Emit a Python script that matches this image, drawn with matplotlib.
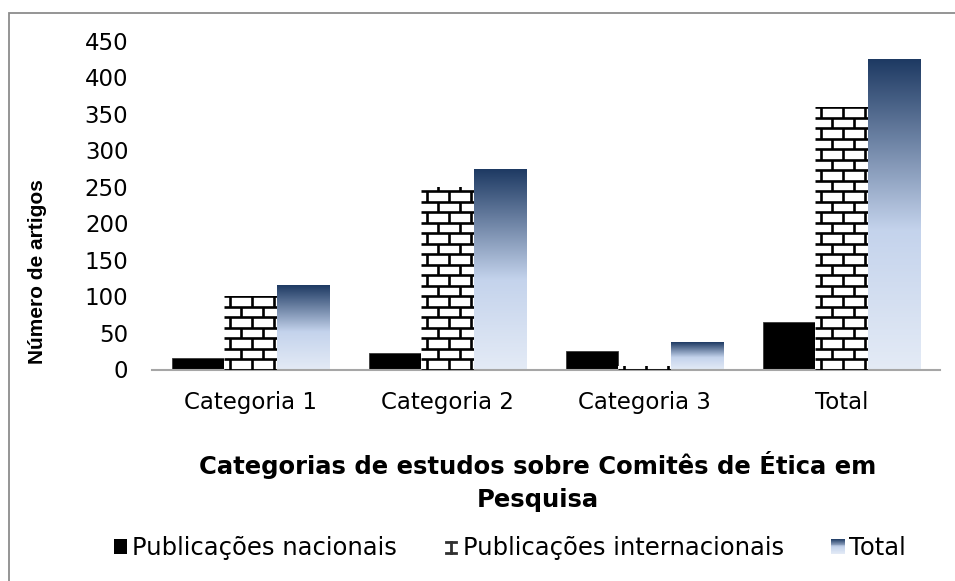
import numpy as np
import matplotlib
matplotlib.use("Agg")
import matplotlib.pyplot as plt
from matplotlib.patches import Rectangle
from matplotlib.lines import Line2D
from matplotlib.collections import LineCollection
from matplotlib.colors import LinearSegmentedColormap
from matplotlib.legend_handler import HandlerBase

# ---------------- data ----------------
categories = ["Categoria 1", "Categoria 2", "Categoria 3", "Total"]
nacionais = [16, 23, 26, 65]
internacionais = [100, 250, 5, 360]
total = [116, 274, 37, 425]
series_names = ["Publicações nacionais", "Publicações internacionais", "Total"]
yticks = [0, 50, 100, 150, 200, 250, 300, 350, 400, 450]
ylabel = "Número de artigos"
xlabel = "Categorias de estudos sobre Comitês de Ética em\nPesquisa"

# ---------------- style ----------------
plt.rcParams['font.family'] = ['DejaVu Sans']
FS = 16.5
W, H = 955, 581
fig = plt.figure(figsize=(W / 100, H / 100), dpi=100)

ax_l, ax_r, ax_b, ax_t = 152, 940, 369.5, 40.8   # pixel box of plot area
ax = fig.add_axes([ax_l / W, 1 - ax_b / H, (ax_r - ax_l) / W, (ax_b - ax_t) / H])

xlim = (-0.5, len(categories) - 0.5)
ylim = (0, 450)
px_x = (xlim[1] - xlim[0]) / (ax_r - ax_l)   # data units per pixel
px_y = (ylim[1] - ylim[0]) / (ax_b - ax_t)

x = np.arange(len(categories))
bw = 0.267

b1 = ax.bar(x - bw, nacionais, bw, color='black', edgecolor='#3a3a3a', lw=0.6, zorder=2)
b2 = ax.bar(x, internacionais, bw, color='white', lw=0, zorder=2)
b3 = ax.bar(x + bw, total, bw, color='none', lw=0, zorder=2)

# gradient for Total bars
grad_cmap = LinearSegmentedColormap.from_list(
    "g", [(0.0, "#E4EBF6"), (0.45, "#C4D3EC"), (1.0, "#1E3A63")])
grad = np.linspace(0, 1, 256).reshape(-1, 1)
for bar in b3:
    x0, w, h = bar.get_x(), bar.get_width(), bar.get_height()
    ax.imshow(grad, extent=[x0, x0 + w, 0, h], origin='lower',
              aspect='auto', cmap=grad_cmap, zorder=2, interpolation='bilinear')

# brick pattern for international bars
row_h = 10.5 * px_y
brick_w = 22 * px_x
for bar in b2:
    x0, w, h = bar.get_x(), bar.get_width(), bar.get_height()
    nrows = int(np.ceil(h / row_h)) + 1
    segs = []
    for k in range(nrows + 1):
        y = k * row_h
        segs.append([(x0, y), (x0 + w, y)])
    for k in range(nrows):
        off = 0.25 * brick_w + (k % 2) * brick_w / 2
        for j in range(-1, int(w / brick_w) + 2):
            xv = x0 + off + j * brick_w
            segs.append([(xv, k * row_h), (xv, (k + 1) * row_h)])
    lc = LineCollection(segs, colors='black', linewidths=1.9, capstyle='butt', zorder=3)
    ax.add_collection(lc)
    lc.set_clip_path(bar)

ax.set_xlim(*xlim)
ax.set_ylim(*ylim)
ax.set_xticks(x)
ax.set_xticklabels(categories)
ax.set_yticks(yticks)
ax.tick_params(axis='both', length=0, labelsize=FS, colors='black')
ax.tick_params(axis='y', pad=17)
ax.tick_params(axis='x', pad=15.5)
for s in ['left', 'right', 'top']:
    ax.spines[s].set_visible(False)
ax.spines['bottom'].set_color('#a6a6a6')
ax.spines['bottom'].set_linewidth(1.5)

ax.set_xlabel(xlabel, fontsize=17.5, fontweight='bold', linespacing=1.45)
ax.xaxis.set_label_coords((538 - ax_l) / (ax_r - ax_l), (ax_b - 451) / (ax_b - ax_t))

fig.text(38 / W, 1 - 272 / H, ylabel, rotation=90, ha='center', va='center',
         fontsize=15, fontweight='bold', family=['Liberation Sans', 'DejaVu Sans'])

# ---------------- legend ----------------
class BrickIconHandler(HandlerBase):
    def create_artists(self, legend, orig_handle, xd, yd, width, height, fontsize, trans):
        c = '#303030'
        lw = 2.0
        x0, x1 = -xd + 0.1 * width, -xd + 0.9 * width
        y0, y1 = -yd + 0.05 * height, -yd + 0.8 * height
        xm = (x0 + x1) / 2
        arts = [Line2D([x0, x1], [y1, y1], color=c, lw=lw, transform=trans),
                Line2D([x0, x1], [y0, y0], color=c, lw=lw, transform=trans),
                Line2D([xm, xm], [y0, y1], color=c, lw=lw, transform=trans)]
        return arts


class GradIconHandler(HandlerBase):
    def create_artists(self, legend, orig_handle, xd, yd, width, height, fontsize, trans):
        n = 16
        arts = []
        for i in range(n):
            t = (i + 0.5) / n
            arts.append(Rectangle((-xd, -yd + i * height / n), width, height / n + 0.3,
                                  facecolor=grad_cmap(t), lw=0, transform=trans))
        return arts


h1 = Rectangle((0, 0), 1, 1, facecolor='black', lw=0)
h2 = Rectangle((0, 0), 1, 1, facecolor='white', lw=0)
h3 = Rectangle((0, 0), 1, 1, facecolor='#7187A8', lw=0)
fig.legend([h1, h2, h3], series_names, loc='center',
           bbox_to_anchor=(510 / W, 1 - 548 / H), ncol=3, frameon=False,
           fontsize=17.5, handlelength=0.55, handleheight=0.55, handletextpad=0.2,
           columnspacing=1.95, borderaxespad=0,
           handler_map={h2: BrickIconHandler(), h3: GradIconHandler()})

# outer border
fig.patches.append(Rectangle((9 / W, -0.1), 1.2, 1 - 13 / H + 0.1, transform=fig.transFigure,
                             fill=False, edgecolor='#8c8c8c', lw=1.3, zorder=0))

fig.savefig("out.png", dpi=100)
